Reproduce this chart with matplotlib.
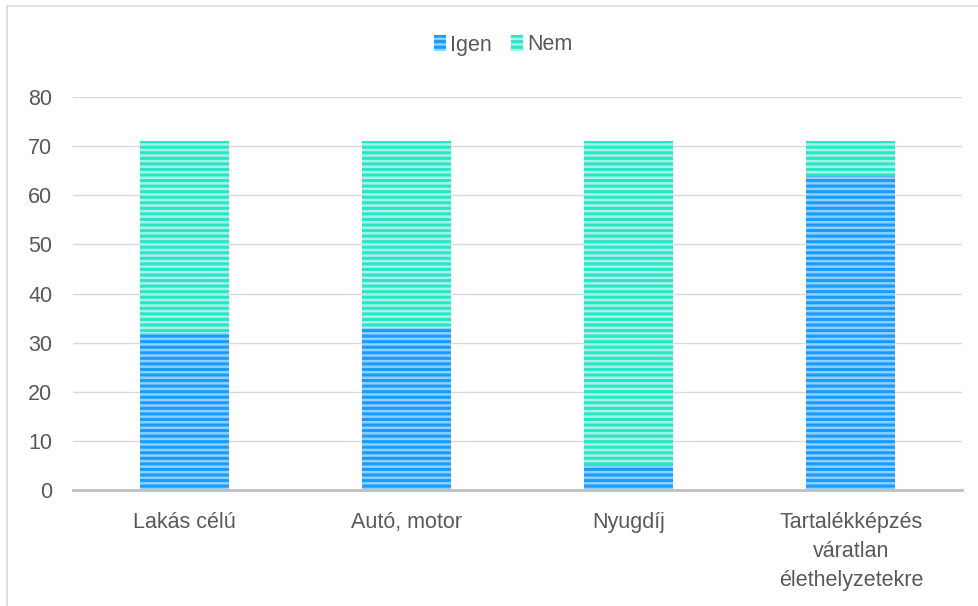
import matplotlib.pyplot as plt
import matplotlib as mpl
from matplotlib.patches import Rectangle, Patch

mpl.rcParams["font.family"] = ["Liberation Sans", "DejaVu Sans"]
mpl.rcParams["hatch.linewidth"] = 2.2

# data
categories = ["Lakás célú", "Autó, motor", "Nyugdíj",
              "Tartalékképzés\nváratlan\nélethelyzetekre"]
igen = [32, 33, 5, 64]
nem = [39, 38, 66, 7]

IGEN_FACE, IGEN_LINE = "#8fd0ff", "#1a9bff"
NEM_FACE, NEM_LINE = "#a8f3e6", "#28e6c8"
TXT = "#595959"
FS = 15.5

fig = plt.figure(figsize=(9.79, 6.06), dpi=100)
ax = fig.add_axes([73 / 979, 1 - 490 / 606, 889 / 979, 393 / 606])

x = range(len(categories))
ax.bar(x, igen, width=0.4, facecolor=IGEN_FACE, edgecolor=IGEN_LINE,
       hatch="---", linewidth=0, zorder=3)
ax.bar(x, nem, width=0.4, bottom=igen, facecolor=NEM_FACE,
       edgecolor=NEM_LINE, hatch="---", linewidth=0, zorder=3)

ax.set_xlim(-0.5, len(categories) - 0.5)
ax.set_ylim(0, 80)
ax.set_yticks(range(0, 81, 10))
ax.set_xticks(list(x))
ax.set_xticklabels(categories, linespacing=1.48)
ax.tick_params(axis="both", length=0, labelsize=FS, labelcolor=TXT)
ax.tick_params(axis="y", pad=15)
ax.tick_params(axis="x", pad=16)
ax.grid(axis="y", color="#d9d9d9", linewidth=1.0, zorder=0)
for s in ["top", "right", "left"]:
    ax.spines[s].set_visible(False)
ax.spines["bottom"].set_color("#bfbfbf")
ax.spines["bottom"].set_linewidth(2.0)
ax.spines["bottom"].set_zorder(4)

handles = [
    Patch(facecolor=IGEN_FACE, edgecolor=IGEN_LINE, hatch="---", linewidth=0),
    Patch(facecolor=NEM_FACE, edgecolor=NEM_LINE, hatch="---", linewidth=0),
]
fig.legend(handles, ["Igen", "Nem"], loc="center",
           bbox_to_anchor=(503 / 979, 1 - 45 / 606), ncol=2, frameon=False,
           fontsize=FS, labelcolor=TXT, handlelength=0.55, handleheight=0.75,
           handletextpad=0.2, columnspacing=0.9)

# outer chart frame
fig.add_artist(Rectangle((7 / 979, -0.1), 1.1, 1.1 - 6 / 606,
                         transform=fig.transFigure, fill=False,
                         edgecolor="#d9d9d9", linewidth=1.2))

fig.savefig("out.png", dpi=100, facecolor="white")
